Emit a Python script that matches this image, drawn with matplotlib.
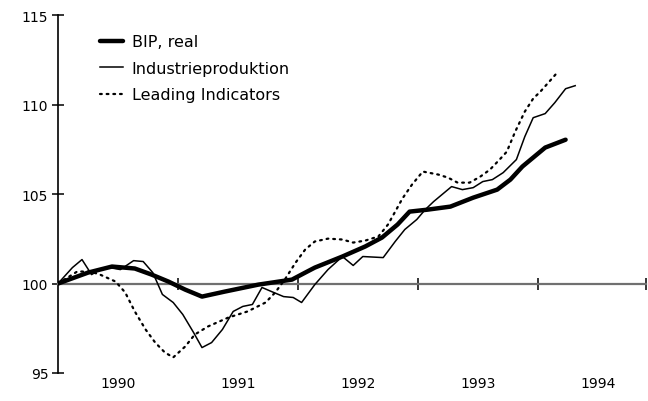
import matplotlib
matplotlib.use("Agg")
import matplotlib.pyplot as plt
import matplotlib.transforms as mtransforms

# ---- data (decimal years, index values) ----
bip_t = [1990.00, 1990.25, 1990.45, 1990.64, 1990.78, 1990.92, 1991.06, 1991.20,
         1991.39, 1991.67, 1991.95, 1992.06, 1992.14, 1992.37, 1992.56, 1992.70,
         1992.83, 1992.93, 1993.08, 1993.27, 1993.46, 1993.66, 1993.77, 1993.87,
         1994.06, 1994.23]
bip_v = [100.0, 100.61, 100.95, 100.84, 100.50, 100.11, 99.66, 99.27,
         99.55, 99.94, 100.22, 100.61, 100.89, 101.51, 102.07, 102.57,
         103.30, 104.02, 104.13, 104.30, 104.80, 105.25, 105.81, 106.54,
         107.60, 108.04]

ind_t = [1990.00, 1990.12, 1990.20, 1990.28, 1990.35, 1990.43, 1990.52, 1990.63,
         1990.71, 1990.79, 1990.87, 1990.96, 1991.04, 1991.13, 1991.20, 1991.28,
         1991.37, 1991.46, 1991.54, 1991.62, 1991.70, 1991.78, 1991.88, 1991.96,
         1992.03, 1992.14, 1992.25, 1992.37, 1992.46, 1992.54, 1992.71, 1992.81,
         1992.89, 1992.99, 1993.06, 1993.13, 1993.28, 1993.37, 1993.46, 1993.54,
         1993.62, 1993.71, 1993.82, 1993.89, 1993.96, 1994.06, 1994.14, 1994.23,
         1994.31]
ind_v = [100.0, 100.89, 101.34, 100.50, 100.78, 100.89, 100.78, 101.28,
         101.23, 100.61, 99.39, 98.94, 98.27, 97.26, 96.42, 96.70,
         97.43, 98.44, 98.72, 98.83, 99.78, 99.55, 99.27, 99.22,
         98.94, 99.94, 100.78, 101.51, 101.01, 101.51, 101.45, 102.35,
         103.02, 103.58, 104.13, 104.58, 105.42, 105.25, 105.36, 105.70,
         105.81, 106.20, 106.93, 108.21, 109.27, 109.50, 110.11, 110.89,
         111.06]

lead_t = [1990.00, 1990.16, 1990.27, 1990.35, 1990.48, 1990.56, 1990.64, 1990.73,
          1990.81, 1990.89, 1990.96, 1991.06, 1991.14, 1991.25, 1991.42, 1991.58,
          1991.73, 1991.81, 1991.89, 1991.98, 1992.06, 1992.14, 1992.25, 1992.37,
          1992.46, 1992.56, 1992.67, 1992.75, 1992.81, 1992.87, 1992.95, 1993.04,
          1993.17, 1993.25, 1993.33, 1993.43, 1993.52, 1993.60, 1993.68, 1993.74,
          1993.81, 1993.89, 1993.96, 1994.02, 1994.13, 1994.16]
lead_v = [100.0, 100.67, 100.67, 100.50, 100.11, 99.50, 98.44, 97.43,
          96.70, 96.15, 95.87, 96.48, 97.15, 97.60, 98.10, 98.44,
          98.94, 99.50, 100.22, 101.17, 101.90, 102.35, 102.51, 102.46,
          102.29, 102.40, 102.63, 103.30, 104.02, 104.75, 105.53, 106.26,
          106.09, 105.92, 105.64, 105.64, 105.98, 106.37, 106.93, 107.37,
          108.49, 109.61, 110.34, 110.73, 111.56, 111.79]

labels = ["BIP, real", "Industrieproduktion", "Leading Indicators"]
years = [1990, 1991, 1992, 1993, 1994]
yticks = [95, 100, 105, 110, 115]

plt.rcParams['font.family'] = ['DejaVu Sans']

fig = plt.figure(figsize=(6.48, 4.02), dpi=100)
ax = fig.add_axes([0.0895, 0.0697, 0.9074, 0.890])

ax.plot(bip_t, bip_v, color='black', lw=3.2, solid_capstyle='round', label=labels[0], zorder=4)
ax.plot(ind_t, ind_v, color='black', lw=1.1, label=labels[1], zorder=3)
ax.plot(lead_t, lead_v, color='black', lw=1.6, linestyle=(0, (0.8, 2.2)),
        dash_capstyle='round', label=labels[2], zorder=3)

ax.set_xlim(1990.0, 1994.9)
ax.set_ylim(95, 115)

for s in ['top', 'right']:
    ax.spines[s].set_visible(False)
ax.spines['left'].set_linewidth(1.2)
ax.spines['bottom'].set_position(('data', 100))
ax.spines['bottom'].set_color('#707070')
ax.spines['bottom'].set_linewidth(1.6)

ax.set_yticks(yticks)
ax.set_yticklabels([str(v) for v in yticks])
ax.tick_params(axis='y', direction='inout', length=8, width=1.1, labelsize=10, pad=3)

ax.set_xticks([y for y in years[1:]] + [1994.9])
ax.set_xticklabels([])
ax.tick_params(axis='x', direction='inout', length=8, width=1.1, colors='black')

trans = mtransforms.blended_transform_factory(ax.transData, ax.transAxes)
for y in years:
    ax.text(y + 0.5, -0.027, str(y), transform=trans, ha='center', va='center', fontsize=10)

leg = ax.legend(loc='upper left', bbox_to_anchor=(0.071, 0.947), frameon=False,
                fontsize=11.5, handlelength=1.45, handletextpad=0.55, labelspacing=0.72,
                borderaxespad=0, borderpad=0)

fig.savefig('out.png', dpi=100)
